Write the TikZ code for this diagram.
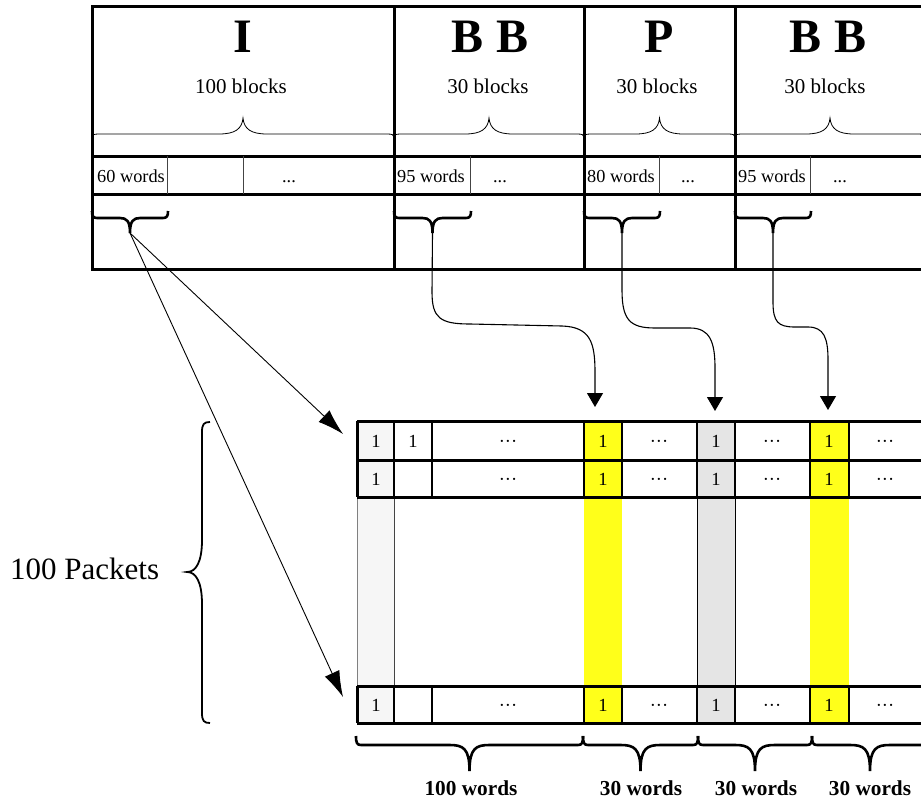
\documentclass[tikz,border=0pt]{standalone}
\usepackage{fontspec}
\setmainfont{Liberation Serif}
\usetikzlibrary{arrows.meta}
\definecolor{ylw}{HTML}{FFFF1A}
\definecolor{lgr}{HTML}{F6F6F6}
\definecolor{mgr}{HTML}{E5E5E5}
\definecolor{dgr}{HTML}{444444}
\newcommand{\topbrace}[3]{%
  \pgfmathsetmacro\xm{(#1+#2)/2}
  \draw[bracethin] (#1,#3) .. controls (#1,#3-2.5) and (#1+2,#3-3) .. (#1+8,#3-3)
    -- (\xm-24,#3-3) .. controls (\xm-8,#3-3) and (\xm-1,#3-8) .. (\xm,#3-19)
    .. controls (\xm+1,#3-8) and (\xm+8,#3-3) .. (\xm+24,#3-3)
    -- (#2-8,#3-3) .. controls (#2-2,#3-3) and (#2,#3-2.5) .. (#2,#3);}
\newcommand{\downbrace}[7]{%
  \pgfmathsetmacro\xm{(#1+#2)/2}
  \draw[bracethick] (#1,#3) .. controls (#1,#3+#4-2) and (#1+1,#3+#4) .. (#1+5,#3+#4)
    -- (\xm-#6,#3+#4) .. controls (\xm-#6/3,#3+#4) and (\xm,#3+#4+3) .. (\xm,#3+#5)
    .. controls (\xm,#3+#4+3) and (\xm+#6/3,#3+#4) .. (\xm+#6,#3+#4)
    -- (#2-5,#3+#4) .. controls (#2-1,#3+#4) and (#2,#3+#4-2) .. (#2,#3);
  \coordinate (#7) at (\xm,#3+#5);}
\tikzset{
  thickline/.style={line width=3pt},
  divider/.style={line width=1pt, draw=dgr},
  rowdiv/.style={line width=1.5pt},
  bracethin/.style={line width=0.8pt},
  bracethick/.style={line width=2.6pt},
  leftbrace/.style={line width=1.8pt},
  thinarrow/.style={line width=0.9pt, -{Latex[length=26pt,width=16pt]}},
  curvearrow/.style={line width=1.1pt, -{Triangle[length=14pt,width=16pt]}},
  biglab/.style={font=\fontsize{48}{52}\selectfont\bfseries, inner sep=0pt, anchor=base},
  blocklab/.style={font=\fontsize{21}{24}\selectfont, inner sep=0pt, anchor=base},
  celllab/.style={font=\fontsize{18.3}{21}\selectfont, inner sep=0pt, anchor=base},
  tablab/.style={font=\fontsize{18.5}{21}\selectfont, inner sep=0pt, anchor=base},
  wordlab/.style={font=\fontsize{21.3}{24}\selectfont\bfseries, inner sep=0pt, anchor=base},
  packlab/.style={font=\fontsize{31}{34}\selectfont, inner sep=0pt, anchor=base west}
}
\begin{document}
\begin{tikzpicture}[x=1pt,y=-1pt]
\useasboundingbox (0,0) rectangle (921,800);
\clip (0,0) rectangle (921,800);

% ---------------- top structure ----------------
\draw[thickline] (92,7) rectangle (940,269);
\draw[thickline] (92,156) -- (940,156);
\draw[thickline] (92,194) -- (940,194);
\foreach \x in {394,584,735} \draw[thickline] (\x,7) -- (\x,269);
\foreach \x in {167,243,470,659,810} \draw[divider] (\x,156) -- (\x,194);

\node[biglab] (tI) at (243,53) {I};
\node[biglab] (tB1) at (490,53) {B B};
\node[biglab] (tP) at (659,53) {P};
\node[biglab] (tB2) at (828,53) {B B};

\node[blocklab] (n1) at (241,93) {100 blocks};
\node[blocklab] (n2) at (488,93) {30 blocks};
\node[blocklab] (n3) at (657,93) {30 blocks};
\node[blocklab] (n4) at (825,93) {30 blocks};

\topbrace{92}{394}{137}
\topbrace{394}{584}{137}
\topbrace{584}{735}{137}
\topbrace{735}{925}{137}

\node[celllab] (w1) at (131,182) {60 words};
\node[celllab] (d1) at (289,182) {...};
\node[celllab] (w2) at (431,182) {95 words};
\node[celllab] (d2) at (500,182) {...};
\node[celllab] (w3) at (621,182) {80 words};
\node[celllab] (d3) at (688,182) {...};
\node[celllab] (w4) at (772,182) {95 words};
\node[celllab] (d4) at (840,182) {...};

\downbrace{92}{168}{211}{7}{22}{10}{bI}
\downbrace{394}{471}{211}{7}{22}{10}{bB1}
\downbrace{584}{660}{211}{7}{22}{10}{bP}
\downbrace{735}{811}{211}{7}{22}{10}{bB2}

% ---------------- table ----------------
\fill[lgr] (357,421) rectangle (394,723);
\fill[ylw] (584,421) rectangle (622,723);
\fill[mgr] (697,421) rectangle (735,723);
\fill[ylw] (810,421) rectangle (849,723);

\draw[line width=0.8pt, draw=gray] (357,497) -- (357,686);
\draw[line width=0.9pt, draw=dgr] (394,497) -- (394,686);
\draw[line width=1pt] (697,497) -- (697,686);
\draw[line width=1pt] (735,497) -- (735,686);

\foreach \ya/\yb in {421/460, 460/497, 686/723} {
  \draw[thickline] (357,\ya) -- (940,\ya);
  \draw[thickline] (357,\yb) -- (940,\yb);
  \draw[thickline] (357,\ya) -- (357,\yb);
  \foreach \x in {394,432,584,622,697,735,810,849} \draw[rowdiv] (\x,\ya) -- (\x,\yb);
}

% row 1
\node[tablab] (a1) at (376,447) {1};
\node[tablab] (a2) at (413,447) {1};
\node[tablab] (a3) at (508,447) {···};
\node[tablab] (a4) at (603,447) {1};
\node[tablab] (a5) at (659,447) {···};
\node[tablab] (a6) at (716,447) {1};
\node[tablab] (a7) at (772,447) {···};
\node[tablab] (a8) at (829,447) {1};
\node[tablab] (a9) at (885,447) {···};
% row 2
\node[tablab] (b1) at (376,485) {1};
\node[tablab] (b3) at (508,485) {···};
\node[tablab] (b4) at (603,485) {1};
\node[tablab] (b5) at (659,485) {···};
\node[tablab] (b6) at (716,485) {1};
\node[tablab] (b7) at (772,485) {···};
\node[tablab] (b8) at (829,485) {1};
\node[tablab] (b9) at (885,485) {···};
% last row
\node[tablab] (c1) at (376,711) {1};
\node[tablab] (c3) at (508,711) {···};
\node[tablab] (c4) at (603,711) {1};
\node[tablab] (c5) at (659,711) {···};
\node[tablab] (c6) at (716,711) {1};
\node[tablab] (c7) at (772,711) {···};
\node[tablab] (c8) at (829,711) {1};
\node[tablab] (c9) at (885,711) {···};

% bottom braces
\downbrace{356}{583}{736}{9}{35}{20}{q1}
\downbrace{583}{698}{736}{9}{35}{20}{q2}
\downbrace{698}{812}{736}{9}{35}{20}{q3}
\downbrace{812}{928}{736}{9}{35}{20}{q4}

\node[wordlab] (l1) at (471,795) {100 words};
\node[wordlab] (l2) at (641,795) {30 words};
\node[wordlab] (l3) at (756,795) {30 words};
\node[wordlab] (l4) at (870,795) {30 words};

% left brace and label
\draw[leftbrace] (210,422) .. controls (204,422) and (202,424) .. (202,432) -- (202,540)
  .. controls (202,562) and (196,572) .. (187,572)
  .. controls (196,572) and (202,582) .. (202,604) -- (202,713)
  .. controls (202,721) and (204,723) .. (210,723);
\node[packlab] (pk) at (10,579) {100 Packets};

% ---------------- connectors ----------------
\coordinate (t1) at (343,434);
\coordinate (t2) at (343,697);
\coordinate (t3) at (595,407);
\coordinate (t4) at (715,411);
\coordinate (t5) at (828,410);

\draw[thinarrow] (bI) -- (t1);
\draw[thinarrow] (bI) -- (t2);

\draw[curvearrow] (bB1) -- (432,292) .. controls (432,318) and (440,324) .. (470,324)
  -- (562,326) .. controls (590,327) and (595,342) .. (595,372) -- (t3);
\draw[curvearrow] (bP) -- (622,290) .. controls (622,320) and (630,328) .. (655,328)
  -- (690,328) .. controls (710,328) and (715,342) .. (715,368) -- (t4);
\draw[curvearrow] (bB2) -- (773,302) .. controls (773,322) and (778,327) .. (795,327)
  -- (808,327) .. controls (824,327) and (828,338) .. (828,360) -- (t5);
\end{tikzpicture}
\end{document}
